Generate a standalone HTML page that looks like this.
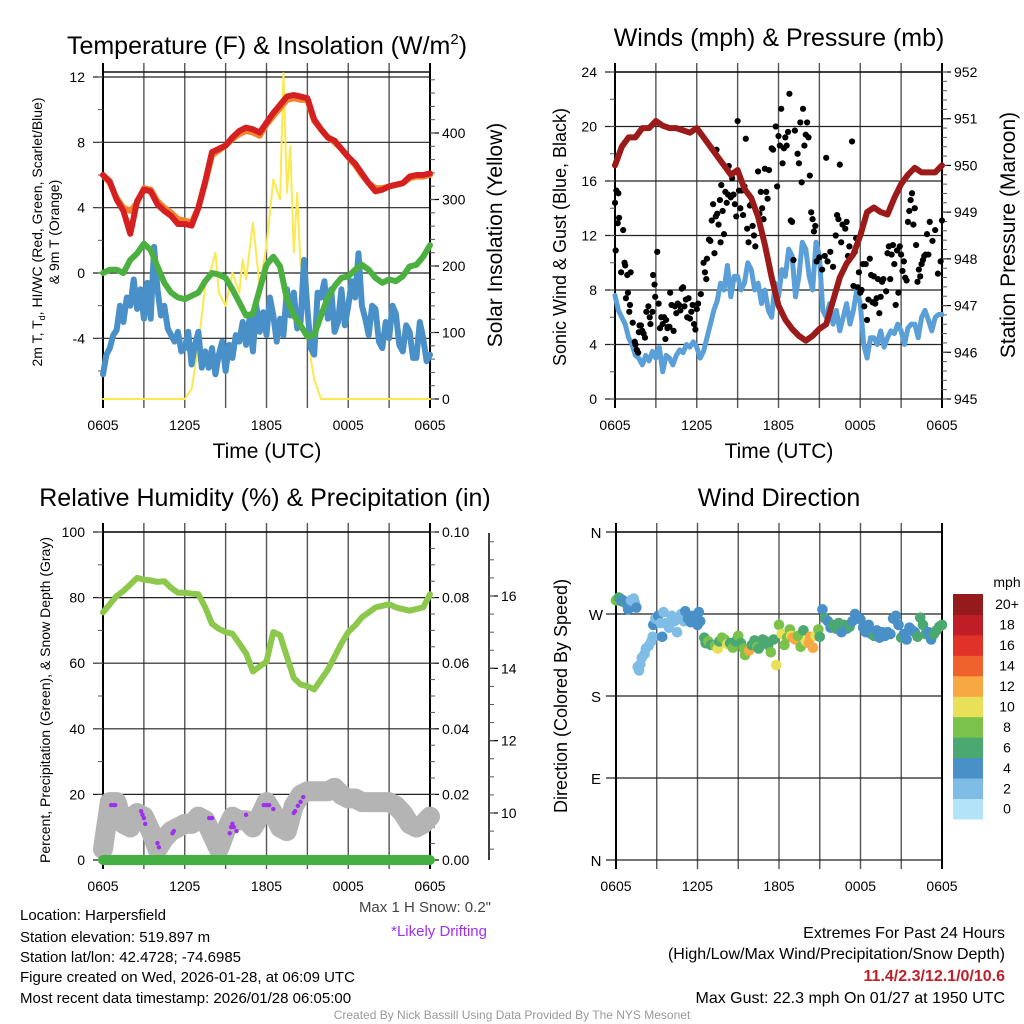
<!DOCTYPE html>
<html><head><meta charset="utf-8">
<style>
html,body{margin:0;padding:0;background:#fff;}
svg{display:block;font-family:"Liberation Sans",sans-serif;}
</style></head>
<body>
<svg id="chart" width="1024" height="1024" viewBox="0 0 1024 1024" xmlns="http://www.w3.org/2000/svg">
<rect x="0" y="0" width="1024" height="1024" fill="#fff"/>
<text x="267" y="54" font-size="25" text-anchor="middle">Temperature (F) &amp; Insolation (W/m<tspan font-size="15" dy="-10">2</tspan><tspan dy="10">)</tspan></text>
<text x="779" y="46" font-size="25" text-anchor="middle">Winds (mph) &amp; Pressure (mb)</text>
<text x="265" y="506" font-size="25" text-anchor="middle">Relative Humidity (%) &amp; Precipitation (in)</text>
<text x="779" y="506" font-size="25" text-anchor="middle">Wind Direction</text>

<text transform="translate(42,232) rotate(-90)" font-size="14" text-anchor="middle">2m T, T<tspan font-size="9" dy="3">d</tspan><tspan dy="-3">, HI/WC (Red, Green, Scarlet/Blue)</tspan></text>
<text transform="translate(59,232) rotate(-90)" font-size="14" text-anchor="middle">&amp; 9m T (Orange)</text>
<text transform="translate(502,235) rotate(-90)" font-size="21" text-anchor="middle">Solar Insolation (Yellow)</text>
<text x="267" y="458" font-size="21" text-anchor="middle">Time (UTC)</text>

<text transform="translate(566,237) rotate(-90)" font-size="18" text-anchor="middle">Sonic Wind &amp; Gust (Blue, Black)</text>
<text transform="translate(1015,235) rotate(-90)" font-size="21" text-anchor="middle">Station Pressure (Maroon)</text>
<text x="779" y="458" font-size="21" text-anchor="middle">Time (UTC)</text>

<text transform="translate(50,700) rotate(-90)" font-size="14" text-anchor="middle">Percent, Precipitation (Green), &amp; Snow Depth (Gray)</text>
<text transform="translate(567,696) rotate(-90)" font-size="18" text-anchor="middle">Direction (Colored By Speed)</text>

<g font-size="15">
<text x="20" y="920">Location: Harpersfield</text>
<text x="20" y="942">Station elevation: 519.897 m</text>
<text x="20" y="962">Station lat/lon: 42.4728; -74.6985</text>
<text x="20" y="982">Figure created on Wed, 2026-01-28, at 06:09 UTC</text>
<text x="20" y="1003">Most recent data timestamp: 2026/01/28 06:05:00</text>
</g>
<text x="491" y="912" font-size="15" fill="#444" text-anchor="end">Max 1 H Snow: 0.2"</text>
<text x="487" y="936" font-size="15" fill="#a030f0" text-anchor="end">*Likely Drifting</text>
<g font-size="16" text-anchor="end">
<text x="1005" y="938">Extremes For Past 24 Hours</text>
<text x="1005" y="959">(High/Low/Max Wind/Precipitation/Snow Depth)</text>
<text x="1005" y="981" fill="#c0202a" font-weight="bold">11.4/2.3/12.1/0/10.6</text>
<text x="1005" y="1003">Max Gust: 22.3 mph On 01/27 at 1950 UTC</text>
</g>
<text x="512" y="1019" font-size="12" fill="#999" text-anchor="middle">Created By Nick Bassill Using Data Provided By The NYS Mesonet</text>
</svg>
<script>
// ---------- DATA ----------
// half-hourly series, 0..24 hours after 0605 UTC
const tempRed = [6.0,5.6,4.5,3.8,2.4,4.4,5.1,5.0,4.2,3.8,3.5,3.0,3.0,2.9,4.0,5.6,7.4,7.6,7.8,8.3,8.7,8.9,8.8,8.6,9.2,9.8,10.3,10.8,10.9,10.8,10.7,9.4,8.8,8.3,8.1,7.6,7.1,6.7,6.1,5.5,5.0,5.1,5.3,5.4,5.5,5.9,6.0,6.0,6.1];
const tempOrange = [6.0,5.5,4.6,4.0,3.8,4.3,5.2,5.1,4.4,4.0,3.7,3.3,3.2,3.1,4.0,5.5,7.2,7.5,7.8,8.2,8.5,8.7,8.6,8.4,9.1,9.6,10.1,10.6,10.7,10.6,10.6,9.3,8.8,8.3,8.0,7.6,7.1,6.6,6.0,5.5,5.2,5.2,5.3,5.4,5.5,5.8,5.9,5.9,6.0];
const tempDew = [0.0,0.2,0.2,0.0,0.8,1.2,1.8,1.4,0.4,-0.6,-1.2,-1.5,-1.6,-1.4,-1.2,-0.5,0.0,-0.1,-0.3,-1.0,-1.8,-2.6,-2.5,-1.0,0.5,1.0,0.4,-1.6,-2.6,-3.2,-3.9,-3.8,-2.6,-1.5,-0.8,-0.3,-0.2,0.2,0.5,0.2,-0.3,-0.6,-0.4,-0.5,-0.2,0.4,0.5,1.0,1.7];
// quarter-hourly series
const windChill = [-6.2,-5.0,-4.6,-3.8,-3.5,-2.0,-3.0,-1.5,
 -2.0,-0.4,-2.2,-1.0,-2.8,-0.6,-2.8,1.6,
 -1.0,-2.6,-2.0,-3.4,-3.8,-4.2,-3.6,-4.8,
 -4.6,-3.6,-5.6,-4.4,-3.6,-5.8,-4.8,-5.8,
 -4.6,-6.2,-5.0,-4.2,-6.0,-4.4,-5.2,-3.8,
 -4.2,-3.0,-4.4,-2.8,-4.8,-2.0,-3.6,-2.4,
 -3.8,-1.5,-2.6,-4.2,-2.8,-3.8,-1.0,-2.6,
 -1.2,-3.4,-3.0,0.8,-2.2,-4.6,-5.0,-1.2,
 -1.5,-0.5,-2.8,-1.0,-3.6,-3.0,-1.0,-3.2,
 -2.0,-0.5,-1.5,1.2,-2.0,-2.8,-3.8,-2.0,
 -2.2,-4.2,-4.6,-3.0,-4.0,-2.0,-2.5,-4.4,
 -4.8,-3.2,-3.6,-5.2,-5.2,-3.0,-4.0,-5.4,
 -5.0];
const sonicWind = [7.6,6.5,6.0,5.5,4.5,4.0,3.2,3.0,
 2.5,3.2,2.8,3.5,3.0,3.8,2.0,3.2,
 3.0,2.5,3.2,3.6,3.4,4.0,3.8,4.2,
 3.8,3.0,3.5,4.5,5.5,6.5,7.2,8.5,
 8.0,9.8,7.5,9.0,9.0,8.0,8.5,10.0,
 9.5,8.0,8.5,7.0,8.0,6.5,6.0,8.5,
 7.5,9.5,9.0,11.0,10.5,7.5,9.0,11.5,
 11.0,9.0,8.0,11.5,10.5,6.5,6.0,7.0,
 5.5,6.5,5.0,6.0,7.0,5.5,6.5,8.0,
 7.0,4.0,3.0,4.5,4.5,4.0,5.0,3.8,
 4.5,5.0,4.8,5.5,5.0,4.0,5.2,5.5,
 5.5,4.5,6.0,6.5,5.8,5.0,6.0,6.2,
 6.2];
const solarHours = [0,6,6.5,7,7.5,8,8.25,8.5,9,9.5,10,10.25,10.5,11,11.5,12,12.5,13,13.25,13.5,13.75,14,14.25,14.5,15,15.25,15.5,16,24];
const solarValues = [0,0,15,80,170,200,220,160,140,190,160,210,180,265,170,230,330,300,490,310,380,220,310,200,180,60,30,0,0];
const pressure = [950.0,950.4,950.6,950.6,950.8,950.8,950.95,950.85,950.8,950.8,950.75,950.7,950.8,950.6,950.4,950.2,950.0,949.8,949.9,949.5,949.3,948.9,948.3,947.6,947.0,946.7,946.5,946.35,946.25,946.35,946.5,946.6,947.1,947.6,947.9,948.1,948.5,949.0,949.1,949.0,948.95,949.3,949.6,949.8,949.95,949.85,949.85,949.85,950.0];
const gustHours = [0.0,0.05,0.1,0.2,0.25,0.3,0.45,0.6,0.7,0.75,0.8,0.9,0.95,1.05,1.1,1.15,1.3,1.45,1.5,1.6,1.7,1.75,1.8,1.9,2.0,2.1,2.2,2.3,2.45,2.55,2.6,2.75,2.8,2.9,2.95,3.1,3.2,3.3,3.4,3.5,3.6,3.7,3.75,3.85,3.9,4.0,4.05,4.15,4.3,4.4,4.5,4.6,4.7,4.8,4.9,5.0,5.1,5.2,5.3,5.4,5.5,5.6,5.7,5.8,5.9,6.0,6.1,6.3,6.5,6.6,6.7,6.75,6.9,7.0,7.1,7.2,7.3,7.4,7.45,7.5,7.6,7.7,7.75,7.8,7.9,8.0,8.1,8.2,8.3,8.35,8.5,8.6,8.7,8.8,8.9,9.0,9.1,9.2,9.3,9.4,9.5,9.6,9.7,9.8,9.9,10.0,10.1,10.2,10.3,10.5,10.6,10.7,10.8,10.9,11.0,11.1,11.2,11.3,11.5,11.6,11.8,11.9,12.0,12.1,12.2,12.3,12.4,12.5,12.6,12.7,12.8,12.9,13.0,13.1,13.2,13.4,13.5,13.6,13.7,13.8,13.9,14.0,14.1,14.2,14.3,14.4,14.5,14.6,14.7,14.8,15.0,15.2,15.4,15.5,15.6,15.8,16.0,16.2,16.3,16.4,16.5,16.6,16.7,16.9,17.0,17.1,17.2,17.4,17.5,17.6,17.7,17.8,17.9,18.0,18.1,18.2,18.3,18.4,18.5,18.6,18.7,18.8,18.9,19.0,19.1,19.2,19.3,19.4,19.5,19.6,19.7,19.9,20.0,20.1,20.2,20.3,20.4,20.5,20.6,20.7,20.8,20.9,21.0,21.1,21.2,21.3,21.4,21.5,21.6,21.7,21.8,21.9,22.0,22.1,22.2,22.3,22.4,22.5,22.6,22.7,22.8,22.9,23.0,23.1,23.3,23.5,23.7,23.9,24.0];
const gustValues = [14.4,10.9,15.3,12.9,15.1,13.3,9.3,12.4,10.0,9.8,7.4,9.1,7.8,6.4,6.9,9.3,5.6,4.2,4.0,3.6,3.4,4.9,5.4,5.4,5.0,4.8,4.5,6.4,6.8,6.0,5.5,6.4,9.1,8.4,7.5,10.8,7.0,5.2,6.0,5.5,6.0,4.4,5.8,5.2,5.3,5.3,7.8,6.9,5.0,6.8,6.3,7.0,6.9,6.5,8.1,8.2,6.8,7.3,6.0,7.4,5.9,6.4,6.9,5.5,5.1,6.6,7.0,7.7,10.0,9.3,8.8,10.3,11.7,11.6,13.1,14.3,10.7,13.4,18.3,13.6,12.8,14.6,11.5,15.7,13.8,12.1,15.2,14.4,15.0,17.1,14.8,16.2,15.0,14.3,13.4,20.4,15.3,14.0,15.3,13.5,15.6,19.1,12.5,11.5,14.2,14.3,12.7,12.0,11.2,16.7,13.6,15.2,14.0,13.2,16.9,15.2,14.7,16.8,18.4,18.3,20.0,15.6,19.3,18.6,21.3,17.3,18.4,19.2,18.6,19.6,22.4,13.1,13.0,10.2,19.7,18.0,17.3,20.3,15.9,21.3,18.6,19.4,20.3,19.2,16.4,13.7,13.2,12.3,12.7,10.1,10.4,9.5,10.5,17.7,10.1,10.8,9.7,12.0,13.5,13.2,17.2,11.5,12.8,12.5,13.0,10.5,11.2,18.9,8.3,10.8,11.8,8.2,9.3,7.8,8.0,9.9,6.8,9.9,5.8,7.3,10.3,9.1,7.1,9.0,7.0,7.4,8.8,6.3,7.5,8.6,8.8,7.9,10.7,11.2,8.8,10.6,11.3,9.9,6.9,10.9,7.8,11.2,10.6,9.4,10.1,8.9,8.7,13.0,13.8,14.6,15.1,12.8,14.0,11.3,8.6,9.5,9.0,9.9,10.2,10.5,10.6,12.1,10.6,13.0,11.6,12.4,9.2,10.1,13.1,10.6];
const humidity = [75.5,78,80.5,82,84,86,85.5,85.2,84.8,85,83,81.5,81.5,81.2,81,77,72,70.5,69.5,69,66,63,57.5,59,60.5,69.5,68.5,62,55.5,53.5,53,52,55,58,62,66,69.5,71.5,74,75.5,77,77.5,78,77,76.5,76,76.5,77,81];
const precipitation = [0,0,0,0,0,0,0,0,0,0,0,0,0,0,0,0,0,0,0,0,0,0,0,0,0,0,0,0,0,0,0,0,0,0,0,0,0,0,0,0,0,0,0,0,0,0,0,0,0];
const snowDepth = [9.0,10.3,10.3,9.7,9.6,10.0,9.9,9.5,9.0,9.3,9.5,9.6,9.7,9.7,9.9,9.8,9.4,9.0,9.5,9.9,9.8,9.8,9.6,9.9,10.3,10.0,9.6,9.5,10.2,10.5,10.6,10.6,10.6,10.6,10.7,10.5,10.4,10.4,10.3,10.3,10.3,10.3,10.3,10.2,10.0,9.7,9.6,9.7,9.9];
const driftHours = [0.6,0.8,0.9,2.8,2.9,3.0,3.1,4.0,4.1,5.1,5.2,7.8,8.0,9.3,9.4,9.5,9.6,9.8,10.5,11.8,12.0,12.2,12.5,14.0,14.1,14.3,14.5,14.7];
const driftDepth = [10.22,10.22,10.22,10.05,9.95,9.86,9.7,9.17,9.05,9.44,9.5,9.86,9.86,9.44,9.61,9.7,9.61,9.5,9.95,10.22,10.22,10.22,10.11,10.0,10.05,10.2,10.31,10.44];
const dirHours = [0.0,0.2,0.3,0.4,0.5,0.7,0.8,0.9,1.1,1.3,1.4,1.5,1.6,1.7,1.8,1.9,2.1,2.2,2.4,2.6,2.7,2.75,2.9,3.1,3.3,3.5,3.4,3.7,3.9,4.1,4.3,4.5,4.6,4.8,5.0,5.1,5.3,5.5,5.7,5.9,6.0,6.1,6.2,6.5,6.6,6.8,7.0,7.3,7.5,7.6,7.8,8.0,8.2,8.4,8.6,8.8,9.0,9.2,9.4,9.5,9.8,10.0,10.2,10.4,10.5,10.8,11.0,11.2,11.4,11.6,11.8,12.0,12.2,12.4,12.6,12.8,12.9,13.0,13.2,13.4,13.6,13.8,14.0,14.2,14.3,14.5,14.7,14.9,15.0,15.2,15.4,15.6,15.8,16.0,16.2,16.4,16.6,16.8,17.0,17.2,17.4,17.6,17.8,18.0,18.2,18.4,18.6,18.8,19.0,19.2,19.4,19.6,19.8,20.0,20.2,20.4,20.6,20.8,21.0,21.2,21.4,21.6,21.8,22.0,22.2,22.4,22.6,22.8,23.0,23.2,23.4,23.6,23.8,24.0];
const dirDegrees = [285,288,287,284,285,282,283,275,285,287,282,277,212,208,215,222,226,232,235,240,245,258,265,268,260,272,245,260,255,268,262,250,266,270,262,273,265,261,268,265,258,272,262,244,238,240,236,235,232,240,244,242,237,238,233,240,246,238,232,225,230,236,241,234,232,242,240,236,228,242,214,258,248,236,244,253,246,244,242,246,234,252,240,238,245,233,246,253,245,275,265,262,255,258,254,260,250,258,254,256,262,270,266,264,255,250,258,248,246,252,244,250,246,250,248,265,268,258,244,248,242,255,252,250,245,266,258,248,250,242,248,252,256,258];
const dirSpeeds = [8,7,6,5,4,6,4,4,2,2,2,4,2,2,2,2,2,2,2,2,2,4,2,4,2,2,4,2,2,2,2,2,2,2,2,4,4,4,4,4,4,4,4,6,6,8,6,8,10,6,8,8,10,6,8,6,8,6,8,8,12,6,6,8,6,6,6,6,8,6,10,8,10,8,8,8,10,12,12,8,8,6,10,12,12,12,10,8,6,4,6,4,4,6,6,6,4,6,4,6,4,4,4,4,4,4,4,4,6,4,4,4,4,4,4,4,4,4,6,4,4,4,4,4,6,6,6,6,4,4,6,6,6,6];
const timeTickLabels = ["0605","1205","1805","0005","0605"];
const tempTickLabels = ["-4","0","4","8","12"];
const solarTickLabels = ["0","100","200","300","400"];
const windTickLabels = ["0","4","8","12","16","20","24"];
const pressureTickLabels = ["945","946","947","948","949","950","951","952"];
const rhTickLabels = ["0","20","40","60","80","100"];
const precipTickLabels = ["0.00","0.02","0.04","0.06","0.08","0.10"];
const snowTickLabels = ["10","12","14","16"];
const dirTickLabels = ["N","E","S","W","N"];
const speedBinLabels = ["0","2","4","6","8","10","12","14","16","18","20+"];
const speedBinColors = ["#b3e3f7","#80bde6","#4a90c8","#4aa870","#7ac24a","#e8e058","#f7a842","#f0622d","#e03228","#c01e26","#941a1c"];

// ---------- DRAWING ----------
const NS = "http://www.w3.org/2000/svg";
const svg = document.getElementById("chart");
function el(tag, attrs, parent) {
  const e = document.createElementNS(NS, tag);
  for (const k in attrs) e.setAttribute(k, attrs[k]);
  (parent || svg).appendChild(e);
  return e;
}
function lin(d0, d1, r0, r1) { return v => r0 + (v - d0) / (d1 - d0) * (r1 - r0); }
const halfHours = tempRed.map((_, i) => i * 0.5);
const quarterHours = windChill.map((_, i) => i * 0.25);

function grid(p, yTicks, yScale) {
  const g = el("g", {});
  
  
  for (let h = 0; h <= 24; h += 3) {
    const x = p.x(h);
    const l = el("line", {x1:x, x2:x, y1:p.yTop - 9, y2:p.yBot + 9, stroke:"#555", "stroke-width":1.4}, g);
    
    
  }
  yTicks.forEach(v => {
    const y = yScale(v);
    const l = el("line", {x1:p.x0 - 10, x2:p.x1, y1:y, y2:y, stroke:"#222", "stroke-width":1.2}, g);
    
    
  });
  const top = el("line", {x1:p.x0, x2:p.x1, y1:p.yTop, y2:p.yTop, stroke:"#111", "stroke-width":1.5}, g);
  
  
  const la = el("line", {x1:p.x0, x2:p.x0, y1:p.yTop - 9, y2:p.yBot + 9, stroke:"#000", "stroke-width":2}, g);
  
  
  const ra = el("line", {x1:p.x1, x2:p.x1, y1:p.yTop - 9, y2:p.yBot + 9, stroke:"#000", "stroke-width":2}, g);
  
  
  timeTickLabels.forEach((t, i) => {
    const tx = el("text", {x:p.x(i * 6), y:p.yBot + 31, "font-size":14, "text-anchor":"middle"}, g);
    
    
    tx.textContent = t;
  });
}
function leftLabels(p, labels, yScale, minorStep, lo, hi) {
  labels.forEach(t => {
    const tx = el("text", {x:p.x0 - 18, y:yScale(+t) + 5, "font-size":14, "text-anchor":"end"});
    
    
    tx.textContent = t;
  });
  if (minorStep) for (let v = lo; v <= hi + 1e-9; v += minorStep) {
    const y = yScale(v);
    const m = el("line", {x1:p.x0 - 5, x2:p.x0, y1:y, y2:y, stroke:"#555", "stroke-width":1});
    
    
  }
}
function rightAxis(p, x, labels, scale, minorStep, lo, hi) {
  labels.forEach(t => {
    const y = scale(parseFloat(t));
    const tk = el("line", {x1:x, x2:x + 9, y1:y, y2:y, stroke:"#000", "stroke-width":1.2});
    
    
    const tx = el("text", {x:x + 12, y:y + 5, "font-size":14});
    
    
    tx.textContent = t;
  });
  for (let v = lo; v <= hi + 1e-9; v += minorStep) {
    const y = scale(v);
    const m = el("line", {x1:x, x2:x + 5, y1:y, y2:y, stroke:"#555", "stroke-width":1});
    
    
  }
}
function line(xs, ys, xScale, yScale, color, w, name) {
  const d = xs.map((h, i) => (i ? "L" : "M") + xScale(h).toFixed(1) + "," + yScale(ys[i]).toFixed(1)).join("");
  const pth = el("path", {d:d, fill:"none", stroke:color, "stroke-width":w, "stroke-linejoin":"round", "stroke-linecap":"round"});
  
  
  return pth;
}

// Panel 1: temperature
const p1 = {name:"temperature", x0:103, x1:430, yTop:72, yBot:399};
p1.x = lin(0, 24, p1.x0, p1.x1);
const yT = lin(0, 12, 273, 77);
const yS = lin(0, 400, 399, 133);
grid(p1, [-4, 0, 4, 8, 12], yT);
leftLabels(p1, tempTickLabels, yT, 2, -6, 12);
rightAxis(p1, 430, solarTickLabels, yS, 20, 0, 480);
line(solarHours, solarValues, p1.x, yS, "#fce94f", 2, "insolation-line");
line(quarterHours, windChill, p1.x, yT, "#4a90c8", 6, "wind-chill-line");
line(halfHours, tempDew, p1.x, yT, "#4cb040", 6, "dewpoint-line");
line(halfHours, tempOrange, p1.x, yT, "#f4842c", 6, "temp-9m-line");
line(halfHours, tempRed, p1.x, yT, "#d42020", 6, "temp-2m-line");

// Panel 2: winds & pressure
const p2 = {name:"winds", x0:615, x1:942, yTop:72, yBot:399};
p2.x = lin(0, 24, p2.x0, p2.x1);
const yW = lin(0, 24, 399, 72);
const yP = lin(945, 952, 399, 72);
grid(p2, [0, 4, 8, 12, 16, 20, 24], yW);
leftLabels(p2, windTickLabels, yW, 2, 0, 24);
rightAxis(p2, 942, pressureTickLabels, yP, 0.2, 945, 952);
line(quarterHours, sonicWind, p2.x, yW, "#5a9fd8", 5, "sonic-wind-line");
const gustG = el("g", {});


gustHours.forEach((h, i) => {
  const c = el("circle", {cx:p2.x(h), cy:yW(gustValues[i]), r:3.1, fill:"#000"}, gustG);
  
  
});
line(halfHours, pressure, p2.x, yP, "#9b1a1a", 6, "pressure-line");

// Panel 3: humidity
const p3 = {name:"humidity", x0:103, x1:430, yTop:532, yBot:860};
p3.x = lin(0, 24, p3.x0, p3.x1);
const yRH = lin(0, 100, 860, 532);
const yPr = lin(0, 0.1, 860, 532);
const ySn = lin(10, 16, 813, 596);
grid(p3, [0, 20, 40, 60, 80, 100], yRH);
leftLabels(p3, rhTickLabels, yRH, 10, 0, 100);
rightAxis(p3, 430, precipTickLabels, yPr, 0.005, 0, 0.1);
const snowAxis = el("line", {x1:489, x2:489, y1:533, y2:860, stroke:"#000", "stroke-width":1.5});


rightAxis(p3, 489, snowTickLabels, ySn, 0.5, 9, 17.5);
line(halfHours, snowDepth, p3.x, ySn, "#b4b4b4", 20, "snow-depth-line");
const driftG = el("g", {});


driftHours.forEach((h, i) => {
  const c = el("circle", {cx:p3.x(h), cy:ySn(driftDepth[i]), r:2.2, fill:"#a030f0"}, driftG);
  
  
});
line(halfHours, humidity, p3.x, yRH, "#8cc84b", 6, "humidity-line");
line(halfHours, precipitation, p3.x, yPr, "#44b044", 10, "precipitation-line");

// Panel 4: wind direction
const p4 = {name:"direction", x0:616, x1:942, yTop:532, yBot:860};
p4.x = lin(0, 24, p4.x0, p4.x1);
const yD = lin(0, 360, 860, 532);
grid(p4, [0, 90, 180, 270, 360], yD);
dirTickLabels.forEach((t, i) => {
  const tx = el("text", {x:p4.x0 - 20, y:yD(i * 90) + 6, "font-size":15, "text-anchor":"middle"});
  
  
  tx.textContent = t;
});
const dirG = el("g", {});


dirHours.forEach((h, i) => {
  const bin = Math.min(10, Math.floor(dirSpeeds[i] / 2));
  const c = el("circle", {cx:p4.x(h), cy:yD(dirDegrees[i]), r:5.3, fill:speedBinColors[bin]}, dirG);
  
  
});
// colorbar
const cb = el("g", {});


const cbTop = 594, cbH = 20.45;
speedBinLabels.forEach((t, i) => {
  const k = speedBinLabels.length - 1 - i;
  const y = cbTop + k * cbH;
  const r = el("rect", {x:953, y:y, width:30, height:cbH + 0.5, fill:speedBinColors[i]}, cb);
  
  
  const tx = el("text", {x:1007, y:y + cbH / 2 + 5, "font-size":14, "text-anchor":"middle"}, cb);
  
  
  tx.textContent = t;
});
const mph = el("text", {x:1007, y:587, "font-size":14, "text-anchor":"middle"}, cb);


mph.textContent = "mph";
</script>
</body></html>
